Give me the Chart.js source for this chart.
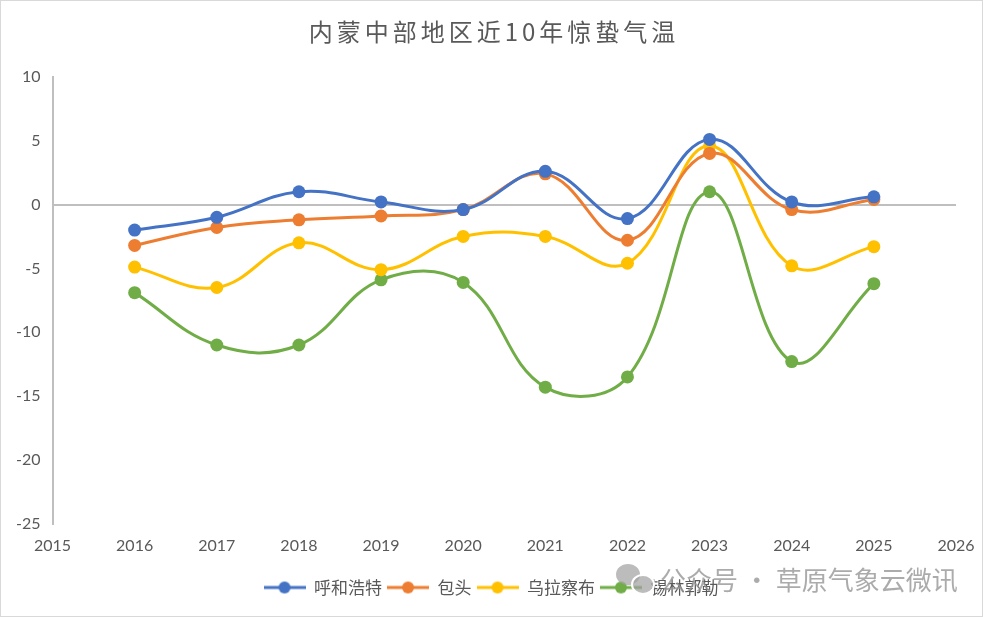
<!DOCTYPE html>
<html>
<head>
<meta charset="utf-8">
<script src="https://cdn.jsdelivr.net/npm/chart.js@4.4.0/dist/chart.umd.min.js"></script>
<style>
  body { margin: 0; background: #fff; }
  #wrap { position: relative; width: 983px; height: 617px; box-sizing: border-box; border: 1px solid #d9d9d9; }
  #mark { position: absolute; left: 659px; top: 559px; font: 26px "Noto Sans CJK SC"; color: rgba(150,150,150,0.8); white-space: nowrap; }
  .bub { position: absolute; border-radius: 50%; background: rgba(160,160,160,0.7); }
</style>
</head>
<body>
<div id="wrap">
  <canvas id="myChart"></canvas>
  <div class="bub" style="left:615px;top:563px;width:24px;height:21px;"></div>
  <div class="bub" style="left:630px;top:573px;width:20px;height:17px;border:2px solid #fff;"></div>
  <div id="mark">公众号 · 草原气象云微讯</div>
</div>
<script>
// 年份 和 各站惊蛰气温
var anios = [2016, 2017, 2018, 2019, 2020, 2021, 2022, 2023, 2024, 2025];
var huhehaote = [-2.0, -1.0, 1.0, 0.2, -0.4, 2.6, -1.1, 5.1, 0.2, 0.6];
var baotou = [-3.2, -1.8, -1.2, -0.9, -0.4, 2.4, -2.8, 4.0, -0.4, 0.4];
var wulanchabu = [-4.9, -6.5, -3.0, -5.1, -2.5, -2.5, -4.6, 4.6, -4.8, -3.3];
var xilinguole = [-6.9, -11.0, -11.0, -5.9, -6.1, -14.3, -13.5, 1.0, -12.3, -6.2];
var nombres = ['呼和浩特', '包头', '乌拉察布', '锡林郭勒'];
var colores = ['#4472C4', '#ED7D31', '#FFC000', '#70AD47'];

function puntos(vals){
    var r = [];
    for (var i = 0; i < anios.length; i++){
        r.push({x: anios[i], y: vals[i]});
    }
    return r;
}

// icono de leyenda: linea con punto
function icono(color){
    var c = document.createElement('canvas');
    c.width = 42; c.height = 14;
    var g = c.getContext('2d');
    g.strokeStyle = color; g.lineWidth = 3;
    g.beginPath(); g.moveTo(0, 7); g.lineTo(42, 7); g.stroke();
    g.fillStyle = color;
    g.beginPath(); g.arc(21, 7, 6, 0, Math.PI * 2); g.fill();
    return c;
}

var series = [huhehaote, baotou, wulanchabu, xilinguole];
var datasets = [];
for (var k = 0; k < series.length; k++){
    datasets.push({
        label: nombres[k],
        data: puntos(series[k]),
        borderColor: colores[k],
        backgroundColor: colores[k],
        borderWidth: 3,
        pointRadius: 6.5,
        pointBorderWidth: 0,
        tension: 0.4
    });
}

// titulo con espaciado y leyenda centrada en el lienzo
function envolver(chart, caja, dx, espacio){
    if (caja && !caja._envuelto){
        var orig = caja.draw.bind(caja);
        caja.draw = function(a){
            chart.ctx.save();
            chart.ctx.translate(dx, 0);
            if (espacio) chart.ctx.letterSpacing = espacio;
            orig(a);
            chart.ctx.restore();
        };
        caja._envuelto = true;
    }
}
const ajustes = {
    id: 'ajustes',
    afterLayout: function(chart){
        envolver(chart, chart.titleBlock, 14, '4px');
        envolver(chart, chart.legend, 11, null);
    }
};

const ctx = document.getElementById('myChart').getContext('2d');
const myChart = new Chart(ctx, {
    type: 'line',
    data: { datasets: datasets },
    plugins: [ajustes],
    options: {
        responsive: true,
        maintainAspectRatio: false,
        animation: false,
        layout: { padding: { left: 3, right: 26, top: 0, bottom: 10 } },
        plugins: {
            title: {
                display: true,
                text: '内蒙中部地区近10年惊蛰气温',
                color: '#595959',
                font: { family: '"Noto Sans CJK SC"', size: 24, weight: 'normal' },
                padding: { top: 16, bottom: 31 }
            },
            legend: {
                position: 'bottom',
                labels: {
                    color: '#595959',
                    font: { family: '"Noto Sans CJK SC"', size: 17 },
                    usePointStyle: true,
                    pointStyleWidth: 42,
                    padding: 5,
                    generateLabels: function(chart){
                        return chart.data.datasets.map(function(d, i){
                            return { text: d.label, pointStyle: icono(d.borderColor), fillStyle: d.borderColor,
                                     strokeStyle: d.borderColor, lineWidth: 0, datasetIndex: i, fontColor: '#595959' };
                        });
                    }
                }
            },
            tooltip: { enabled: false }
        },
        scales: {
            x: {
                type: 'linear',
                min: 2015,
                max: 2026,
                afterFit: function(s){ s.height += 15; },
                ticks: {
                    stepSize: 1,
                    color: '#595959',
                    font: { family: 'Lato', size: 16 },
                    padding: 4,
                    callback: function(v){ return String(v); }
                },
                grid: { display: false },
                border: { display: false }
            },
            y: {
                min: -25,
                max: 10,
                ticks: {
                    stepSize: 5,
                    color: '#595959',
                    font: { family: 'Lato', size: 16 },
                    padding: 12
                },
                grid: {
                    drawTicks: false,
                    lineWidth: 2,
                    color: function(c){ return c.tick && c.tick.value === 0 ? '#bfbfbf' : 'rgba(0,0,0,0)'; }
                },
                border: { display: true, color: '#bfbfbf', width: 2 }
            }
        }
    }
});
</script>
</body>
</html>
